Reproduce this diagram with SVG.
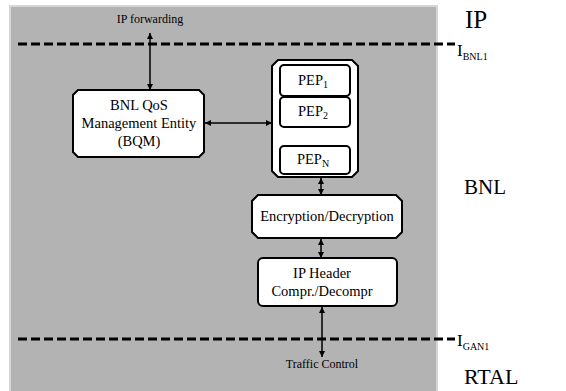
<svg xmlns="http://www.w3.org/2000/svg" width="566" height="391" viewBox="0 0 566 391">
  <defs>
    <marker id="ah" viewBox="0 0 10 10" refX="10" refY="5" markerWidth="6" markerHeight="6" orient="auto-start-reverse" markerUnits="userSpaceOnUse">
      <path d="M0,0 L10,5 L0,10 Z" fill="#000"/>
    </marker>
  </defs>
  <style>
    .box { fill: #fff; stroke: #000; stroke-width: 2; }
    .t { font-family: "Liberation Serif", "Times New Roman", serif; fill: #000; }
    .lbl { font-size: 14.5px; text-anchor: middle; }
    .sm { font-size: 12px; text-anchor: middle; }
    .layer { font-size: 22px; }
    .if { font-size: 17px; }
    .sub { font-size: 10px; }
    .dash { stroke: #000; stroke-width: 3; stroke-dasharray: 9 4; fill: none; }
    .conn { stroke: #000; stroke-width: 1.5; fill: none; marker-start: url(#ah); marker-end: url(#ah); }
  </style>

  <rect width="566" height="391" fill="#fff"/>
  <!-- BNL layer panel -->
  <rect x="10" y="6" width="427" height="390" fill="#b3b3b3" stroke="#d6d6d6" stroke-width="2"/>

  <!-- interface lines -->
  <line class="dash" x1="18" y1="44" x2="455" y2="44"/>
  <line class="dash" x1="18" y1="339" x2="455" y2="339"/>

  <!-- layer and interface labels -->
  <text class="t layer" x="465" y="28" style="font-size:25px">IP</text>
  <text class="t if" x="457" y="56">I<tspan class="sub" dy="4">BNL1</tspan></text>
  <text class="t layer" x="464" y="194" style="font-size:21px">BNL</text>
  <text class="t if" x="457" y="346">I<tspan class="sub" dy="4">GAN1</tspan></text>
  <text class="t layer" x="464" y="384">RTAL</text>

  <text class="t sm" x="150" y="23">IP forwarding</text>
  <text class="t sm" x="322" y="368">Traffic Control</text>

  <!-- connectors -->
  <g id="connectors">
    <line class="conn" x1="150" y1="33" x2="150" y2="90"/>
    <line class="conn" x1="205" y1="123" x2="272" y2="123"/>
    <line class="conn" x1="321" y1="178" x2="321" y2="195"/>
    <line class="conn" x1="321" y1="239" x2="321" y2="258"/>
    <line class="conn" x1="322" y1="307" x2="322" y2="357"/>
    <line x1="318" y1="127" x2="318" y2="146" stroke="#000" stroke-width="0.8" stroke-dasharray="2 2"/>
  </g>

  <!-- BNL QoS Management Entity -->
  <g id="bqm">
    <path class="box" d="M78,90 H199 L204,95 V152 L199,157 H78 L73,152 V95 Z"/>
    <text class="t lbl" x="139" y="110">BNL QoS</text>
    <text class="t lbl" x="139" y="128">Management Entity</text>
    <text class="t lbl" x="139" y="146">(BQM)</text>
  </g>

  <!-- PEP container -->
  <g id="pep-group">
    <path class="box" d="M278,60 H352 L358,66 V171 L352,177 H278 L272,171 V66 Z"/>
  </g>
  <g id="pep1">
    <rect class="box" x="280" y="65" width="70" height="31" rx="4"/>
    <text class="t lbl" x="313" y="85">PEP<tspan class="sub" dy="3">1</tspan></text>
  </g>
  <g id="pep2">
    <rect class="box" x="280" y="97" width="70" height="30" rx="4"/>
    <text class="t lbl" x="313" y="116">PEP<tspan class="sub" dy="3">2</tspan></text>
  </g>
  <g id="pepn">
    <rect class="box" x="280" y="146" width="70" height="28" rx="4"/>
    <text class="t lbl" x="313" y="164">PEP<tspan class="sub" dy="3">N</tspan></text>
  </g>

  <!-- Encryption/Decryption -->
  <g id="crypt">
    <path class="box" d="M258,195 H396 L402,201 V232 L396,238 H258 L252,232 V201 Z"/>
    <text class="t lbl" x="327" y="221">Encryption/Decryption</text>
  </g>

  <!-- IP Header compression -->
  <g id="iphc">
    <rect class="box" x="258" y="258" width="139" height="48" rx="5"/>
    <text class="t lbl" x="322" y="278">IP Header</text>
    <text class="t lbl" x="322" y="296">Compr./Decompr</text>
  </g>
</svg>
